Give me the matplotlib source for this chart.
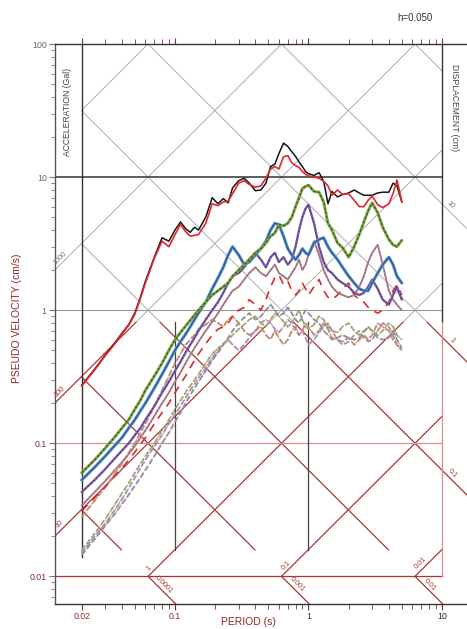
import numpy as np
import matplotlib
matplotlib.use("Agg")
import matplotlib.pyplot as plt
from matplotlib.ticker import FixedLocator, FixedFormatter, LogLocator, NullFormatter

plt.rcParams['font.family'] = ['Liberation Sans', 'DejaVu Sans']

# natural periods (s)
periods = [0.02, 0.025, 0.03, 0.035, 0.04, 0.045, 0.05, 0.055, 0.06, 0.07,
           0.08, 0.09, 0.10, 0.11, 0.12, 0.13, 0.14, 0.15, 0.17, 0.19,
           0.21, 0.23, 0.25, 0.27, 0.30, 0.33, 0.36, 0.40, 0.44, 0.48,
           0.52, 0.56, 0.60, 0.65, 0.70, 0.75, 0.80, 0.85, 0.90, 0.95,
           1.0, 1.1, 1.2, 1.3, 1.4, 1.5, 1.65, 1.8, 2.0, 2.2,
           2.4, 2.6, 2.8, 3.0, 3.3, 3.6, 4.0, 4.3, 4.6, 5.0]

# pseudo velocity spectra (cm/s)
sv_black = [0.273, 0.36, 0.46, 0.56, 0.67, 0.78, 0.95, 1.25, 1.65, 2.5,
            3.5, 3.3, 4.0, 4.6, 4.1, 3.85, 4.2, 4.0, 5.0, 7.0,
            6.3, 6.9, 6.4, 8.3, 9.4, 9.8, 9.0, 7.9, 8.0, 9.0,
            12.0, 12.5, 15.0, 18.0, 17.0, 15.5, 14.3, 13.0, 12.0, 11.0,
            10.6, 10.3, 10.8, 9.3, 6.3, 7.8, 7.1, 7.4, 7.6, 8.0,
            7.6, 7.3, 7.3, 7.3, 7.6, 7.7, 7.7, 9.0, 8.6, 6.5]
sv_red = [0.27, 0.355, 0.455, 0.55, 0.66, 0.77, 0.93, 1.22, 1.6, 2.45,
          3.3, 3.0, 3.7, 4.4, 3.9, 3.6, 3.65, 3.7, 4.5, 6.3,
          6.1, 6.5, 6.6, 7.5, 9.0, 9.4, 8.8, 8.4, 8.6, 9.8,
          11.5, 12.0, 11.5, 14.2, 14.5, 12.8, 12.2, 11.8, 11.0, 10.5,
          10.2, 10.0, 9.8, 9.3, 8.6, 7.3, 8.0, 7.4, 7.5, 6.7,
          6.0, 6.0, 6.7, 7.2, 6.2, 5.9, 6.3, 7.5, 9.5, 6.6]
sv_green = [0.060, 0.075, 0.092, 0.11, 0.13, 0.15, 0.18, 0.21, 0.25, 0.32,
            0.40, 0.50, 0.60, 0.68, 0.76, 0.84, 0.92, 1.0, 1.15, 1.3,
            1.4, 1.5, 1.6, 1.8, 2.0, 2.2, 2.4, 2.7, 2.9, 3.2,
            3.6, 3.8, 4.4, 4.3, 4.5, 5.0, 6.0, 7.0, 8.2, 8.5,
            8.7, 7.8, 7.7, 6.5, 4.5, 4.0, 3.2, 2.95, 2.5, 3.0,
            3.7, 4.6, 5.6, 6.4, 5.4, 4.2, 3.4, 3.1, 3.0, 3.35]
sv_blue = [0.053, 0.066, 0.08, 0.095, 0.11, 0.13, 0.15, 0.175, 0.2, 0.26,
           0.33, 0.41, 0.50, 0.58, 0.66, 0.75, 0.85, 0.95, 1.15, 1.45,
           1.75, 2.1, 2.6, 3.0, 2.6, 2.2, 2.3, 2.6, 2.9, 3.3,
           4.0, 4.5, 4.4, 3.6, 2.9, 2.6, 2.4, 2.6, 2.9, 2.7,
           2.6, 3.2, 3.4, 3.5, 3.0, 2.7, 2.4, 2.1, 1.8, 1.6,
           1.45, 1.4, 1.4, 1.6, 1.9, 2.2, 2.5, 2.2, 1.8, 1.6]
sv_purple = [0.043, 0.053, 0.064, 0.076, 0.088, 0.10, 0.115, 0.13, 0.15, 0.19,
             0.24, 0.29, 0.35, 0.41, 0.48, 0.55, 0.62, 0.70, 0.85, 1.0,
             1.15, 1.35, 1.6, 1.8, 1.9, 2.1, 2.4, 2.7, 2.4, 2.1,
             2.5, 2.7, 2.3, 2.5, 2.2, 2.4, 3.0, 4.0, 5.0, 5.8,
             6.2, 4.5, 3.0, 2.3, 2.0, 1.9, 1.7, 1.6, 1.5, 1.35,
             1.3, 1.35, 1.5, 1.7, 1.45, 1.2, 1.1, 1.3, 1.5, 1.2]
sv_mauve = [0.034, 0.043, 0.052, 0.062, 0.072, 0.083, 0.095, 0.11, 0.125, 0.16,
            0.20, 0.24, 0.29, 0.34, 0.40, 0.46, 0.52, 0.58, 0.70, 0.82,
            0.95, 1.1, 1.25, 1.4, 1.5, 1.7, 1.9, 2.1, 1.9, 1.8,
            2.0, 2.2, 1.9, 1.8, 1.7, 1.9, 2.1, 2.4, 2.0, 2.2,
            2.6, 3.3, 2.6, 2.0, 1.7, 1.5, 1.35, 1.3, 1.25, 1.3,
            1.5, 1.8, 2.3, 2.7, 3.1, 2.2, 1.4, 1.2, 1.1, 1.0]
sv_red_dash = [0.031, 0.039, 0.047, 0.056, 0.065, 0.075, 0.086, 0.098, 0.11, 0.14,
               0.17, 0.20, 0.24, 0.28, 0.32, 0.37, 0.42, 0.47, 0.56, 0.65,
               0.72, 0.75, 0.80, 0.90, 1.0, 1.05, 1.2, 1.1, 1.0, 1.2,
               1.5, 1.75, 1.85, 1.55, 1.65, 1.4, 1.3, 1.4, 1.6, 1.45,
               1.3, 1.5, 1.7, 1.4, 1.25, 1.2, 1.3, 1.45, 1.6, 1.3,
               1.2, 1.15, 1.05, 1.0, 0.95, 1.0, 1.15, 1.4, 1.55, 1.3]
sv_orange = [0.028, 0.037, 0.047, 0.058, 0.07, 0.085, 0.10, 0.12, 0.14, 0.19,
             0.25, 0.32, 0.40, 0.47, 0.55, 0.60, 0.65, 0.72, 0.78, 0.85,
             0.80, 0.75, 0.85, 0.90, 0.80, 0.70, 0.65, 0.70, 0.75, 0.65,
             0.60, 0.70, 0.62, 0.55, 0.60, 0.70, 0.75, 0.65, 0.70, 0.80,
             0.75, 0.65, 0.70, 0.80, 0.72, 0.62, 0.60, 0.58, 0.62, 0.55,
             0.60, 0.65, 0.60, 0.65, 0.80, 0.75, 0.70, 0.60, 0.55, 0.50]
sv_olive = [0.0157, 0.021, 0.027, 0.034, 0.042, 0.05, 0.06, 0.07, 0.08, 0.10,
            0.125, 0.15, 0.18, 0.21, 0.24, 0.27, 0.30, 0.33, 0.40, 0.47,
            0.52, 0.55, 0.60, 0.65, 0.72, 0.78, 0.85, 0.90, 0.80, 0.75,
            0.85, 0.95, 0.90, 0.82, 0.75, 0.80, 0.90, 1.0, 0.85, 0.75,
            0.72, 0.78, 0.90, 0.85, 0.75, 0.70, 0.68, 0.75, 0.80, 0.70,
            0.65, 0.70, 0.75, 0.70, 0.65, 0.70, 0.80, 0.75, 0.65, 0.60]
sv_slate = [0.0145, 0.019, 0.024, 0.029, 0.035, 0.041, 0.048, 0.055, 0.063, 0.08,
            0.10, 0.12, 0.145, 0.17, 0.20, 0.23, 0.26, 0.29, 0.35, 0.42,
            0.48, 0.55, 0.62, 0.70, 0.80, 0.88, 0.95, 0.85, 0.90, 1.0,
            1.1, 1.0, 0.90, 0.95, 1.05, 0.95, 0.85, 0.80, 0.90, 1.0,
            0.95, 0.85, 0.80, 0.70, 0.65, 0.60, 0.62, 0.65, 0.62, 0.60,
            0.62, 0.68, 0.75, 0.70, 0.62, 0.60, 0.62, 0.70, 0.60, 0.52]
sv_pink = [0.015, 0.02, 0.025, 0.031, 0.038, 0.046, 0.055, 0.065, 0.075, 0.095,
           0.115, 0.14, 0.165, 0.19, 0.22, 0.25, 0.28, 0.31, 0.37, 0.44,
           0.50, 0.56, 0.60, 0.55, 0.50, 0.55, 0.62, 0.70, 0.80, 0.85,
           0.80, 0.72, 0.68, 0.75, 0.85, 0.80, 0.70, 0.65, 0.70, 0.62,
           0.55, 0.60, 0.68, 0.75, 0.80, 0.70, 0.60, 0.55, 0.58, 0.65,
           0.70, 0.62, 0.58, 0.60, 0.70, 0.80, 0.75, 0.65, 0.55, 0.50]

# tripartite grid values
acc_upper = [10000, 1000, 100, 10, 1]          # Gal
disp_upper = [100, 10, 1, 0.1, 0.01]           # cm
acc_lower = [100, 10, 1, 0.1, 0.01]
disp_lower = [1, 0.1, 0.01, 0.001, 0.0001]
x_ticks = [0.02, 0.1, 1, 10]
x_tick_labels = ['0.02', '0.1', '1', '10']
y_ticks = [0.01, 0.1, 1, 10, 100]
y_tick_labels = ['0.01', '0.1', '1', '10', '100']

TWO_PI = 2 * np.pi
T_MIN, T_MAX = 0.01262, 15.4
V_MIN, V_MAX = 0.0062, 100.0
V_SPLIT = 0.81      # boundary between the upper (grey) and lower (red) grid blocks
V_CUT = 0.0158      # lower end of the displacement lines inside the lower block

GREY = '#a8a8a8'
DRED = '#a83636'
PINK = '#d69090'
DARK = '#333333'

fig = plt.figure(figsize=(4.67, 6.29), dpi=100)
ax = fig.add_axes([55 / 467, 25 / 629, 412 / 467, 560 / 629])
ax.set_xscale('log')
ax.set_yscale('log')
ax.set_xlim(T_MIN, T_MAX)
ax.set_ylim(V_MIN, V_MAX)


def acc_seg(A, tlo, thi, vlo, vhi, **kw):
    """Constant acceleration line: V = A T / 2pi."""
    t_a = max(tlo, TWO_PI * vlo / A)
    t_b = min(thi, TWO_PI * vhi / A)
    if t_b > t_a:
        ax.plot([t_a, t_b], [A * t_a / TWO_PI, A * t_b / TWO_PI], **kw)


def disp_seg(D, tlo, thi, vlo, vhi, **kw):
    """Constant displacement line: V = 2pi D / T."""
    t_a = max(tlo, TWO_PI * D / vhi)
    t_b = min(thi, TWO_PI * D / vlo)
    if t_b > t_a:
        ax.plot([t_a, t_b], [TWO_PI * D / t_a, TWO_PI * D / t_b], **kw)


gkw = dict(color=GREY, lw=0.65, zorder=1)
rkw = dict(color=DRED, lw=0.9, zorder=1)

# upper block (grey)
for A in acc_upper:
    acc_seg(A, 0.02 if A == 10000 else T_MIN, 10, V_SPLIT, V_MAX, **gkw)
for D in disp_upper:
    disp_seg(D, 0.02, T_MAX if D == 10 else 10, V_SPLIT, V_MAX, **gkw)

# lower block (red)
for A in acc_lower:
    acc_seg(A, T_MIN, 10, 0.01, V_SPLIT, **rkw)
for D in disp_lower:
    disp_seg(D, 0.02, T_MAX, V_CUT, V_SPLIT, **rkw)
for D in [0.01, 0.001, 0.0001]:
    disp_seg(D, 0.02, T_MAX, V_MIN * 0.9, 0.01, **rkw)

# frame lines
ax.plot([T_MIN, 10], [10, 10], color=DARK, lw=1.1, zorder=1)
ax.plot([T_MIN, 10], [1, 1], color='#999999', lw=0.8, zorder=1)
ax.plot([T_MIN, 10], [0.1, 0.1], color=PINK, lw=0.9, zorder=1)
ax.plot([T_MIN, 10], [0.01, 0.01], color=DRED, lw=0.9, zorder=1)
ax.plot([0.02, 0.02], [0.0139, V_MAX], color=DARK, lw=1.0, zorder=1)
ax.plot([0.1, 0.1], [V_CUT, V_SPLIT], color='#444444', lw=0.9, zorder=1)
ax.plot([1, 1], [V_CUT, V_SPLIT], color='#444444', lw=0.9, zorder=1)
ax.plot([10, 10], [V_SPLIT, V_MAX], color=DARK, lw=1.0, zorder=1)
ax.plot([10, 10], [0.01, V_SPLIT], color=PINK, lw=0.9, zorder=1)


def line_label(text, t, v, rot, dx, dy, color):
    ax.annotate(text, (t, v), xytext=(dx, dy), textcoords='offset points',
                rotation=rot, rotation_mode='anchor', ha='center', va='center',
                fontsize=5.2, color=color, zorder=3)


# acceleration labels (Gal)
line_label('1000', 0.0145, 1000 * 0.0145 / TWO_PI, 45, -2.5, 2.5, '#777777')
line_label('100', 0.0145, 100 * 0.0145 / TWO_PI, 45, -2.5, 2.5, DRED)
line_label('10', 0.0145, 10 * 0.0145 / TWO_PI, 45, -2.5, 2.5, DRED)
line_label('1', 0.068, 1 * 0.068 / TWO_PI, 45, -2.5, 2.5, DRED)
line_label('0.1', 0.72, 0.1 * 0.72 / TWO_PI, 45, -2.5, 2.5, DRED)
line_label('0.01', 7.4, 0.01 * 7.4 / TWO_PI, 45, -2.5, 2.5, DRED)
# displacement labels (cm)
line_label('10', 10.8, TWO_PI * 10 / 10.8, -45, 2.5, 2.5, '#777777')
line_label('1', 11.2, TWO_PI * 1 / 11.2, -45, 2.5, 2.5, DRED)
line_label('0.1', 11.2, TWO_PI * 0.1 / 11.2, -45, 2.5, 2.5, DRED)
line_label('0.0001', 0.077, TWO_PI * 0.0001 / 0.077, -45, 2.5, 2.5, DRED)
line_label('0.001', 0.77, TWO_PI * 0.001 / 0.77, -45, 2.5, 2.5, DRED)
line_label('0.01', 7.7, TWO_PI * 0.01 / 7.7, -45, 2.5, 2.5, DRED)


# response curves
def two_tone(vals, base, top, lw_base, lw_top, dashes=None, base_dashes=None):
    kw = dict(color=base, lw=lw_base, zorder=4, solid_capstyle='round')
    if base_dashes:
        kw['dashes'] = base_dashes
    ax.plot(periods, vals, **kw)
    kw2 = dict(color=top, lw=lw_top, zorder=4)
    if dashes:
        kw2['dashes'] = dashes
    ax.plot(periods, vals, **kw2)


two_tone(sv_pink, '#c98aa6', '#8c8cc8', 1.3, 0.7, dashes=(2, 2), base_dashes=(3, 1.5))
two_tone(sv_slate, '#7f86b8', '#b0a070', 1.3, 0.7, dashes=(2, 2), base_dashes=(3, 1.5))
two_tone(sv_olive, '#b7b64a', '#7a88b0', 1.3, 0.7, dashes=(2, 2), base_dashes=(3, 1.5))
two_tone(sv_orange, '#d69a58', '#8f7fa8', 1.4, 0.7, dashes=(2, 2), base_dashes=(3, 1.5))
ax.plot(periods, sv_red_dash, color='#e0282e', lw=1.2, dashes=(5, 4), zorder=4)
two_tone(sv_mauve, '#b98080', '#7d6aa0', 1.4, 0.7, dashes=(2, 2))
two_tone(sv_purple, '#7c5aaa', '#4e3f78', 1.7, 0.7, dashes=(2, 2))
two_tone(sv_blue, '#56b0cc', '#4656a6', 2.3, 1.2)
two_tone(sv_green, '#78a23c', '#3a4a2a', 2.1, 0.8, dashes=(2, 2))
ax.plot(periods, sv_black, color='#151515', lw=1.1, zorder=5)
ax.plot(periods, sv_red, color='#e3262d', lw=1.2, zorder=6)

# axes styling
ax.spines['right'].set_visible(False)
ax.spines['left'].set_color('#555555')
ax.spines['bottom'].set_color(DARK)
ax.spines['top'].set_color(DARK)
for s in ['left', 'bottom', 'top']:
    ax.spines[s].set_linewidth(1.0)

ax.xaxis.set_major_locator(FixedLocator(x_ticks))
ax.xaxis.set_major_formatter(FixedFormatter(x_tick_labels))
ax.xaxis.set_minor_locator(LogLocator(base=10, subs=np.arange(2, 10), numticks=20))
ax.xaxis.set_minor_formatter(NullFormatter())
ax.yaxis.set_major_locator(FixedLocator(y_ticks))
ax.yaxis.set_major_formatter(FixedFormatter(y_tick_labels))
ax.yaxis.set_minor_locator(LogLocator(base=10, subs=np.arange(2, 10), numticks=20))
ax.yaxis.set_minor_formatter(NullFormatter())

ax.tick_params(axis='x', which='both', direction='out', top=True, bottom=True,
               labeltop=False, color='#7a3030', labelsize=6.3, pad=2)
ax.tick_params(axis='x', which='major', length=4, width=0.8)
ax.tick_params(axis='x', which='minor', length=3.5, width=0.6)
ax.tick_params(axis='y', which='both', direction='out', right=False,
               color='#777777', labelsize=6.3, pad=2)
ax.tick_params(axis='y', which='major', length=4, width=0.8)
ax.tick_params(axis='y', which='minor', length=3, width=0.6)

for lab, c in zip(ax.get_xticklabels(), ['#8b2a2a', '#8b2a2a', '#5a2525', '#222222']):
    lab.set_color(c)
for lab, c in zip(ax.get_yticklabels(), ['#8b2a2a', '#8b2a2a', '#666666', '#666666', '#666666']):
    lab.set_color(c)

# titles
fig.text(17 / 467, 1 - 318 / 629, 'PSEUDO VELOCITY (cm/s)', rotation=90,
         ha='center', va='center', fontsize=7.5, color='#8b2525')
fig.text(248 / 467, 1 - 622 / 629, 'PERIOD (s)', ha='center', va='center',
         fontsize=7.5, color='#8b2525')
fig.text(68 / 467, 1 - 112 / 629, 'ACCELERATION (Gal)', rotation=90,
         ha='center', va='center', fontsize=6.2, color='#444444')
fig.text(455 / 467, 1 - 108 / 629, 'DISPLACEMENT (cm)', rotation=270,
         ha='center', va='center', fontsize=6.2, color='#444444')
fig.text(415 / 467, 1 - 18 / 629, 'h=0.050', ha='center', va='center',
         fontsize=7, color='#333333')

fig.savefig('out.png', dpi=100)
